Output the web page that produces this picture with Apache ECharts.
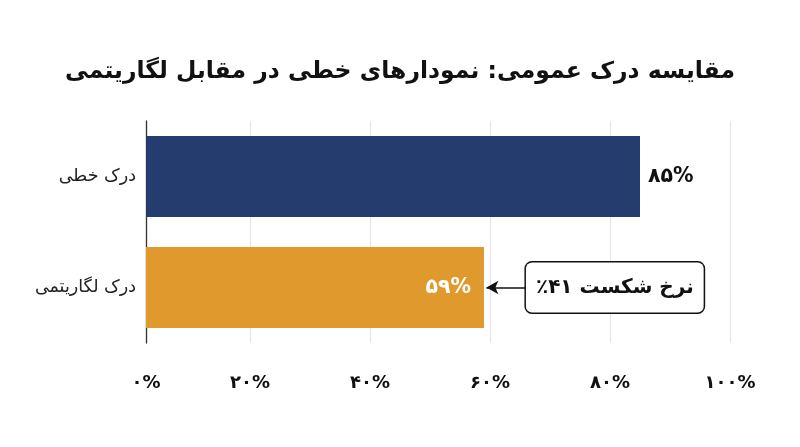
<!DOCTYPE html>
<html>
<head>
<meta charset="utf-8">
<script src="https://cdn.jsdelivr.net/npm/echarts@6/dist/echarts.min.js"></script>
<style>
html,body{margin:0;padding:0;background:#fff;}
#c{width:800px;height:447px;}
</style>
</head>
<body>
<div id="c" dir="rtl"></div>
<script>
const titleText = 'مقایسه درک عمومی: نمودارهای خطی در مقابل لگاریتمی';
const categories = ['درک خطی', 'درک لگاریتمی'];
const values = [85, 59];
const barColors = ['#253d6e', '#e0992d'];
const tickValues = [0, 20, 40, 60, 80, 100];
const annotationText = 'نرخ شکست ۴۱٪';
const annotationCategory = 'درک لگاریتمی';

const FONT = 'DejaVu Sans';
const axisMin = 2.67;
function toFa(n) {
  return String(n).replace(/[0-9]/g, d => '۰۱۲۳۴۵۶۷۸۹'[+d]);
}
const tickPos = tickValues.map(v => Math.max(v, axisMin));

const chart = echarts.init(document.getElementById('c'));
chart.setOption({
  backgroundColor: '#fff',
  animation: false,
  title: {
    text: titleText,
    left: 'center',
    top: 55,
    textStyle: { fontFamily: FONT, fontSize: 23.5, fontWeight: 'bold', color: '#111' }
  },
  grid: { left: 146, right: 70, top: 121, bottom: 104, containLabel: false },
  xAxis: {
    type: 'value',
    min: axisMin,
    max: 100,
    axisLine: { show: false },
    axisTick: { show: false, customValues: tickPos },
    splitLine: { show: true, lineStyle: { color: '#e6e6e6', width: 1.2 } },
    axisLabel: {
      customValues: tickPos,
      margin: 31,
      fontFamily: FONT,
      fontSize: 18,
      fontWeight: 'bold',
      color: '#111',
      formatter: v => toFa(Math.round(v / 20) * 20) + '%'
    }
  },
  yAxis: {
    type: 'category',
    data: categories,
    inverse: true,
    axisLine: { show: true, lineStyle: { color: '#333', width: 1.3 } },
    axisTick: { show: false },
    axisLabel: { margin: 10, fontFamily: FONT, fontSize: 17.5, color: '#222' }
  },
  series: [{
    type: 'bar',
    barWidth: 81,
    data: values.map((v, i) => ({
      value: v,
      itemStyle: { color: barColors[i] },
      label: i === 0
        ? { show: true, position: 'right', distance: 8, color: '#111' }
        : { show: true, position: 'insideRight', distance: 13, color: '#fff' }
    })),
    label: {
      show: true,
      fontFamily: FONT,
      fontSize: 20.5,
      fontWeight: 'bold',
      formatter: p => toFa(p.value) + '%'
    },
    markLine: {
      silent: true,
      symbol: ['none', 'arrow'],
      symbolSize: [10, 12],
      label: { show: false },
      lineStyle: { color: '#111', width: 1.6, type: 'solid' },
      data: [[
        { coord: [66, annotationCategory] },
        { coord: [59.4, annotationCategory] }
      ]]
    },
    markPoint: {
      silent: true,
      symbol: 'rect',
      symbolSize: 0,
      data: [{
        coord: [80.8, annotationCategory],
        label: {
          show: true,
          position: 'inside',
          formatter: annotationText,
          fontFamily: FONT,
          fontSize: 20,
          fontWeight: 'bold',
          color: '#111',
          backgroundColor: '#fff',
          borderColor: '#111',
          borderWidth: 1.5,
          borderRadius: 6,
          padding: [15, 10, 15, 10]
        }
      }]
    }
  }]
});
</script>
</body>
</html>
